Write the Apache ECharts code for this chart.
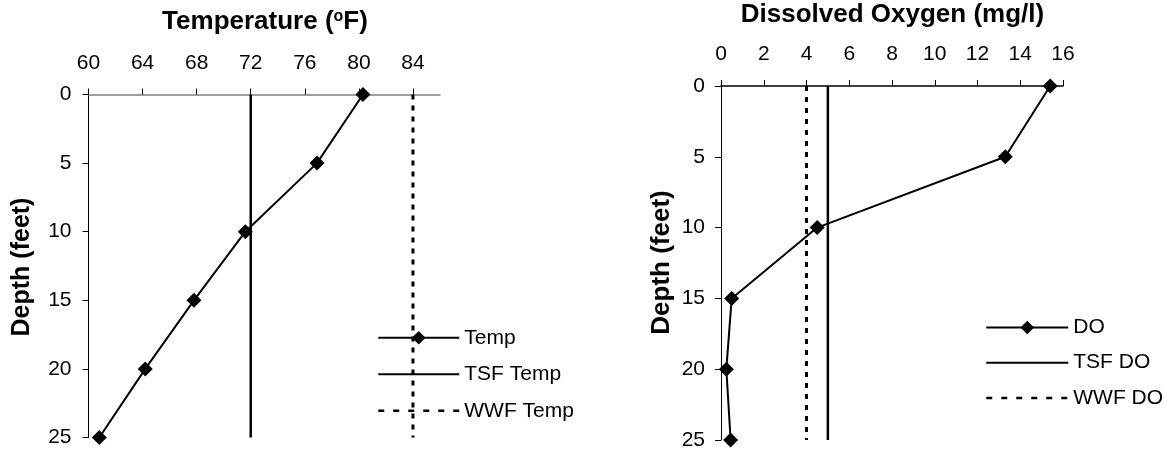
<!DOCTYPE html>
<html>
<head>
<meta charset="utf-8">
<script src="https://cdn.jsdelivr.net/npm/echarts@6/dist/echarts.min.js"></script>
<style>
html,body{margin:0;padding:0;background:#fff;}
#chart{width:1168px;height:456px;}
</style>
</head>
<body>
<div id="chart"></div>
<script>
// ---- data ----
const depths = [0, 5, 10, 15, 20, 25];
const tempValues = [80.3, 76.9, 71.6, 67.8, 64.2, 60.8];
const doValues = [15.4, 13.3, 4.5, 0.5, 0.25, 0.45];
const tsfTemp = 72;
const wwfTemp = 84;
const tsfDO = 5;
const wwfDO = 4;
const tempTicks = [60, 64, 68, 72, 76, 80, 84];
const doTicks = [0, 2, 4, 6, 8, 10, 12, 14, 16];
const depthTicks = [0, 5, 10, 15, 20, 25];
const tempSeriesNames = ['Temp', 'TSF Temp', 'WWF Temp'];
const doSeriesNames = ['DO', 'TSF DO', 'WWF DO'];

const FONT = "'Liberation Sans', Arial, sans-serif";
const chart = echarts.init(document.getElementById('chart'), null, {renderer: 'canvas'});

function pairs(xs) { return xs.map((v, i) => [v, depths[i]]); }
function vline(v) { return [[v, depths[0]], [v, depths[depths.length - 1]]]; }

function xAxisCfg(idx, min, max, interval, ticks, lineColor, margin) {
  return {
    type: 'value', gridIndex: idx, position: 'top', min: min, max: max, interval: interval,
    splitLine: {show: false},
    axisLine: {show: true, onZero: false, lineStyle: {color: lineColor, width: 1.5}},
    axisTick: {show: true, inside: false, length: 6, customValues: ticks, lineStyle: {color: '#000', width: 1}},
    axisLabel: {show: true, customValues: ticks, margin: margin, color: '#000', fontSize: 21, fontFamily: FONT}
  };
}
function yAxisCfg(idx, margin) {
  return {
    type: 'value', gridIndex: idx, inverse: true, min: 0, max: 25, interval: 5,
    splitLine: {show: false},
    axisLine: {show: true, onZero: false, lineStyle: {color: '#000', width: 1}},
    axisTick: {show: true, inside: false, length: 6, customValues: depthTicks, lineStyle: {color: '#000', width: 1}},
    axisLabel: {show: true, customValues: depthTicks, margin: margin, color: '#000', fontSize: 21, fontFamily: FONT}
  };
}
function legendCfg(names, left, top, w, gap) {
  return {
    orient: 'vertical', left: left, top: top, padding: 0,
    itemWidth: w, itemHeight: 17, itemGap: gap,
    data: [
      {name: names[0]},
      {name: names[1], itemStyle: {opacity: 0}},
      {name: names[2], itemStyle: {opacity: 0}, lineStyle: {type: [6, 9], width: 2.5}}
    ],
    textStyle: {color: '#000', fontSize: 21, lineHeight: 22, fontFamily: FONT}
  };
}
function dataSeries(name, xi, values) {
  return {
    name: name, type: 'line', xAxisIndex: xi, yAxisIndex: xi, data: pairs(values),
    symbol: 'diamond', symbolSize: 15, z: 5,
    lineStyle: {color: '#000', width: 2}, itemStyle: {color: '#000'}
  };
}
function limitSeries(name, xi, v, dashed) {
  return {
    name: name, type: 'line', xAxisIndex: xi, yAxisIndex: xi, data: vline(v),
    symbol: 'none', z: 3,
    lineStyle: dashed ? {color: '#000', width: 3, type: [5, 6]} : {color: '#000', width: 2.5},
    itemStyle: {color: '#000'}
  };
}

const option = {
  animation: false,
  backgroundColor: '#fff',
  grid: [
    {left: 88.5, top: 94.5, width: 351.5, height: 343, containLabel: false},
    {left: 721, top: 86, width: 342, height: 354, containLabel: false}
  ],
  xAxis: [
    xAxisCfg(0, 60, 86, 4, tempTicks, '#808080', 21),
    xAxisCfg(1, 0, 16, 2, doTicks, '#000', 21)
  ],
  yAxis: [yAxisCfg(0, 17), yAxisCfg(1, 16)],
  legend: [
    legendCfg(tempSeriesNames, 377, 326.8, 81, 14.5),
    legendCfg(doSeriesNames, 985, 316.5, 82, 13.2)
  ],
  graphic: [
    {type: 'text', x: 265, y: 22, style: {text: 'Temperature ({sup|o}F)', align: 'center', verticalAlign: 'middle',
      fill: '#000', font: 'bold 26px ' + FONT,
      rich: {sup: {fontSize: 16, fontWeight: 'bold', fontFamily: FONT, verticalAlign: 'top', fill: '#000'}}}},
    {type: 'text', x: 892.5, y: 15, style: {text: 'Dissolved Oxygen (mg/l)', align: 'center', verticalAlign: 'middle',
      fill: '#000', font: 'bold 26px ' + FONT}},
    {type: 'text', x: 22, y: 267, rotation: Math.PI / 2, style: {text: 'Depth (feet)', align: 'center', verticalAlign: 'middle',
      fill: '#000', font: 'bold 25px ' + FONT}},
    {type: 'text', x: 661.5, y: 262.5, rotation: Math.PI / 2, style: {text: 'Depth (feet)', align: 'center', verticalAlign: 'middle',
      fill: '#000', font: 'bold 26px ' + FONT}}
  ],
  series: [
    dataSeries(tempSeriesNames[0], 0, tempValues),
    limitSeries(tempSeriesNames[1], 0, tsfTemp, false),
    limitSeries(tempSeriesNames[2], 0, wwfTemp, true),
    dataSeries(doSeriesNames[0], 1, doValues),
    limitSeries(doSeriesNames[1], 1, tsfDO, false),
    limitSeries(doSeriesNames[2], 1, wwfDO, true)
  ]
};
chart.setOption(option);
</script>
</body>
</html>
